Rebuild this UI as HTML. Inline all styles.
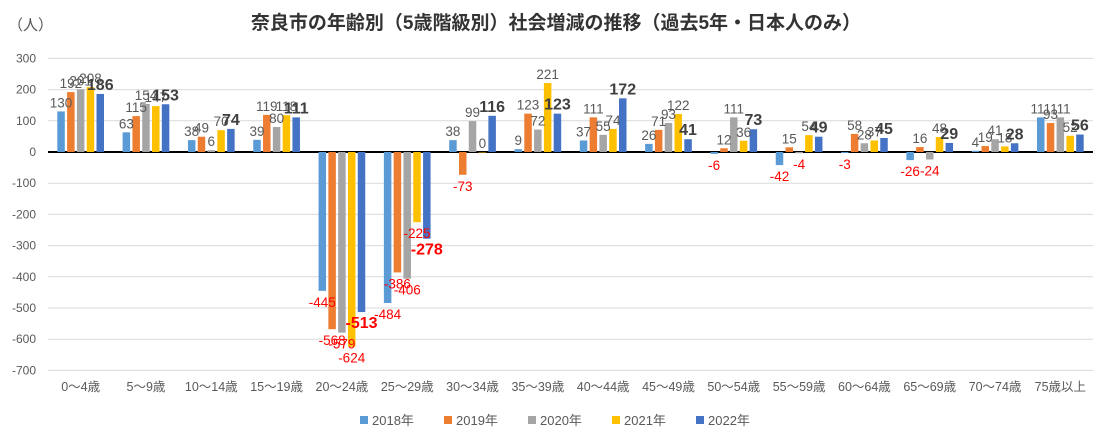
<!DOCTYPE html>
<html><head><meta charset="utf-8"><style>
body{margin:0;background:#fff;}
svg text{font-family:"Liberation Sans","Noto Sans CJK JP",sans-serif;}
</style></head><body>
<svg id="chart" width="1113" height="440" viewBox="0 0 1113 440" xmlns="http://www.w3.org/2000/svg">
<rect width="1113" height="440" fill="#fff"/>
<text x="556" y="29" text-anchor="middle" font-size="19" font-weight="bold" fill="#333">奈良市の年齢別（5歳階級別）社会増減の推移（過去5年・日本人のみ）</text>
<text x="8" y="30" font-size="15" fill="#555">（人）</text>
<g id="grid"></g><g id="bars"></g><g id="labels"></g><g id="legend"></g>
</svg>
<script>
const categories=["0～4歳","5～9歳","10～14歳","15～19歳","20～24歳","25～29歳","30～34歳","35～39歳","40～44歳","45～49歳","50～54歳","55～59歳","60～64歳","65～69歳","70～74歳","75歳以上"];
const seriesNames=["2018年","2019年","2020年","2021年","2022年"];
const s2018=[130,63,38,39,-445,-484,38,9,37,26,-6,-42,-3,-26,4,111];
const s2019=[192,115,49,119,-568,-386,-73,123,111,71,12,15,58,16,19,93];
const s2020=[201,154,6,80,-579,-406,99,72,55,93,111,-4,28,-24,41,111];
const s2021=[208,147,70,118,-624,-225,0,221,74,122,36,54,37,48,18,52];
const s2022=[186,153,74,111,-513,-278,116,123,172,41,73,49,45,29,28,56];
const yTicks=[300,200,100,0,-100,-200,-300,-400,-500,-600,-700];
const series=[s2018,s2019,s2020,s2021,s2022];
const colors=["#5b9bd5","#ed7d31","#a5a5a5","#ffc000","#4472c4"];
const NS="http://www.w3.org/2000/svg";
const plotL=48,plotR=1093;
const y=v=>152-v*0.312;
const band=(plotR-plotL)/categories.length;
const xc=i=>plotL+band*(i+0.5);
function mk(tag,attrs,parent){const e=document.createElementNS(NS,tag);for(const k in attrs)e.setAttribute(k,attrs[k]);parent.appendChild(e);return e;}
const grid=document.getElementById('grid'),bars=document.getElementById('bars'),labels=document.getElementById('labels'),legend=document.getElementById('legend');
yTicks.forEach(t=>{
  if(t!==0){const l=mk('line',{x1:plotL,x2:plotR,y1:y(t),y2:y(t),stroke:'#d9d9d9','stroke-width':1},grid);
  
  }
  const tx=mk('text',{x:36,y:y(t)+4,'text-anchor':'end','font-size':12,fill:'#595959'},grid);
  tx.textContent=t;
  
  
});
categories.forEach((c,i)=>{
  const tx=mk('text',{x:xc(i),y:391,'text-anchor':'middle','font-size':12.5,fill:'#595959'},grid);
  tx.textContent=c;
  
  
});
const bw=7.5,pitch=9.8;
series.forEach((s,k)=>{
  s.forEach((v,i)=>{
    const x=xc(i)+(k-2)*pitch-bw/2;
    const r=mk('rect',{x:x,y:Math.min(y(v),y(0)),width:bw,height:Math.max(Math.abs(y(v)-y(0)),0.5),fill:colors[k]},bars);
    
    
    const bold=k===4;
    const ty=v>=0?y(v)-4:y(v)+16;
    const t=mk('text',{x:x+bw/2,y:ty,'text-anchor':'middle','font-size':bold?16:13.5,'font-weight':bold?'bold':'normal',fill:v<0?'#ff0000':(bold?'#404040':'#595959')},labels);
    t.textContent=v;
    
    
  });
});
const z=mk('line',{x1:plotL,x2:plotR,y1:y(0),y2:y(0),stroke:'#000','stroke-width':2},grid);


seriesNames.forEach((n,k)=>{
  const lx=360+k*84;
  const r=mk('rect',{x:lx,y:416,width:8,height:8,fill:colors[k]},legend);
  
  
  const t=mk('text',{x:lx+12,y:425,'font-size':13,fill:'#595959'},legend);
  t.textContent=n;
  
  
});
</script>
</body></html>
